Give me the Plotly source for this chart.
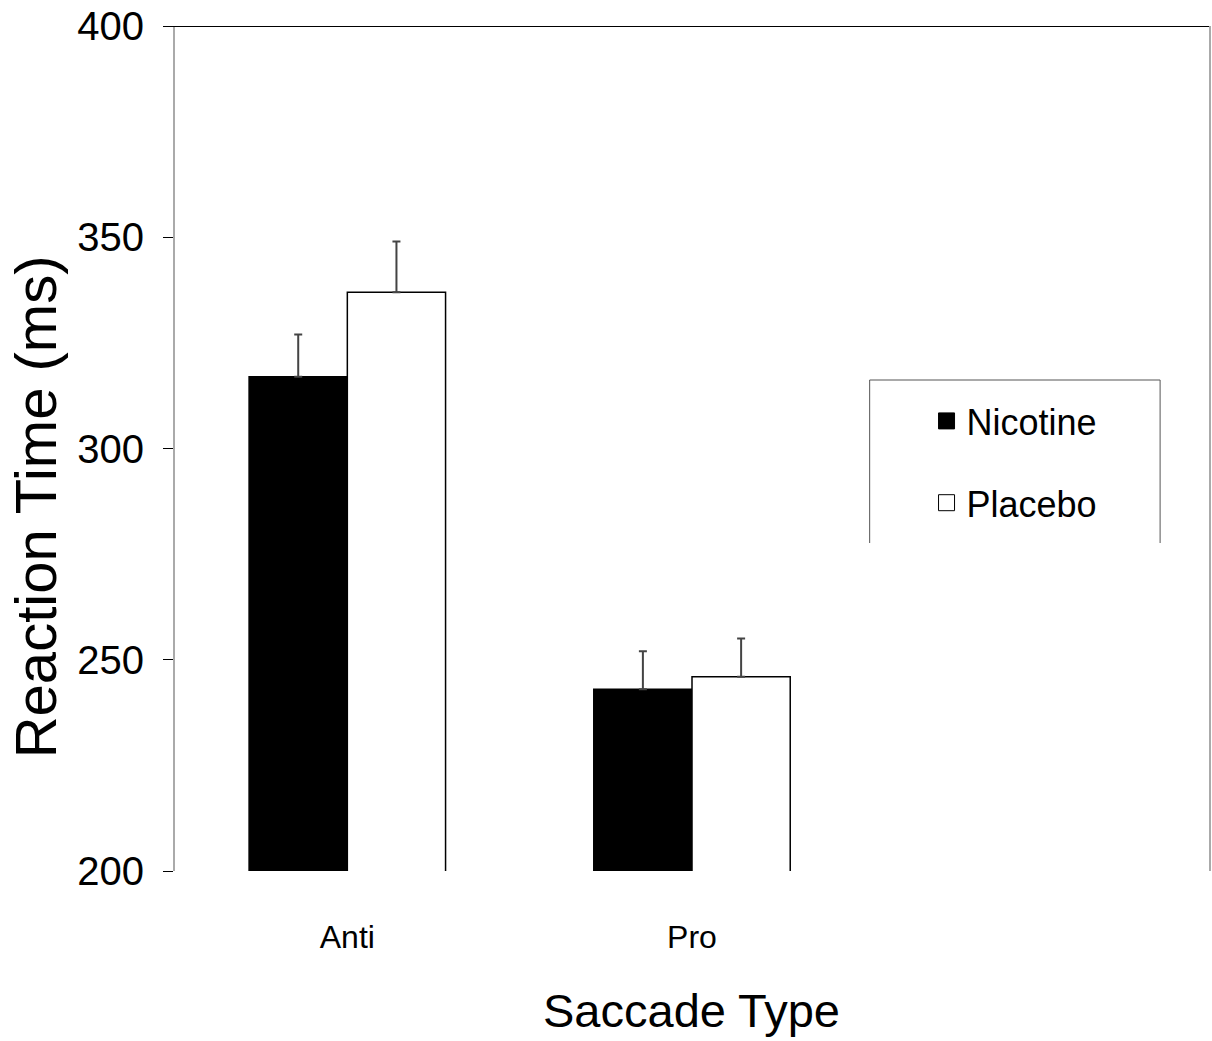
import plotly.graph_objects as go

categories = ["Anti", "Pro"]
cat_pos = [0, 1]
nicotine = [317, 243]
nicotine_err = [10, 9]
placebo = [337, 246]
placebo_err = [12, 9]
y_ticks = [200, 250, 300, 350, 400]

W, H = 1212, 1041
L, R, T, B = 175, 1, 26, 170
pw, ph = W - L - R, H - T - B

def px_x(p):
    # screen pixel -> paper x
    return (p - L) / pw

def px_y(p):
    # screen pixel -> paper y
    return (H - B - p) / ph

fig = go.Figure()
fig.add_trace(go.Bar(
    x=cat_pos, y=nicotine, name="Nicotine", showlegend=False,
    marker=dict(color="black", line=dict(color="black", width=1.5)),
    error_y=dict(type="data", symmetric=False, array=nicotine_err,
                 arrayminus=[0, 0], color="#444", thickness=2, width=4),
))
fig.add_trace(go.Bar(
    x=cat_pos, y=placebo, name="Placebo", showlegend=False,
    marker=dict(color="white", line=dict(color="black", width=1.5)),
    error_y=dict(type="data", symmetric=False, array=placebo_err,
                 arrayminus=[0, 0], color="#444", thickness=2, width=4),
))
# legend entries
fig.add_trace(go.Scatter(
    x=[None], y=[None], mode="markers", name="Nicotine", legendgroup="a",
    marker=dict(symbol="square", size=18, color="black",
                line=dict(color="black", width=1)),
))
fig.add_trace(go.Scatter(
    x=[None], y=[None], mode="markers", name="Placebo", legendgroup="b",
    marker=dict(symbol="square", size=18, color="white",
                line=dict(color="black", width=1)),
))

fig.update_layout(
    width=W, height=H,
    margin=dict(l=L, r=R, t=T, b=B, pad=0),
    paper_bgcolor="white", plot_bgcolor="white",
    barmode="group", bargap=0.43, bargroupgap=0,
    font=dict(family="Liberation Sans, Arial, sans-serif", color="black"),
    showlegend=True,
    legend=dict(
        x=px_x(928), y=px_y(462), xanchor="left", yanchor="middle",
        bgcolor="rgba(0,0,0,0)", borderwidth=0,
        font=dict(size=36, family="Liberation Sans, Arial, sans-serif"),
        tracegroupgap=32, itemsizing="trace", traceorder="grouped",
    ),
    xaxis=dict(
        range=[-0.5, 2.5], tickvals=cat_pos, ticktext=categories,
        showline=False, showgrid=False, zeroline=False, ticks="",
        tickfont=dict(size=32), ticklabelstandoff=44,
    ),
    yaxis=dict(
        range=[200, 400], tickvals=y_ticks, showgrid=False, zeroline=False,
        showline=True, linecolor="#aaaaaa", linewidth=2, mirror=True,
        ticks="outside", ticklen=10, tickcolor="black", tickwidth=1,
        tickfont=dict(size=40),
        ticklabelstandoff=11,
    ),
    shapes=[
        dict(type="line", xref="paper", yref="y", x0=px_x(163), x1=1.0,
             y0=400, y1=400, line=dict(color="black", width=2)),
        dict(type="path", xref="paper", yref="paper",
             path=f"M {px_x(871)},{px_y(543)} L {px_x(871)},{px_y(380)} "
                  f"L {px_x(1162)},{px_y(380)} L {px_x(1162)},{px_y(543)}",
             line=dict(color="#555555", width=1)),
    ],
    annotations=[
        dict(text="Saccade Type", xref="paper", yref="paper",
             x=px_x(692), y=px_y(1010), xanchor="center", yanchor="middle",
             showarrow=False, font=dict(size=47)),
        dict(text="Reaction Time (ms)", xref="paper", yref="paper",
             x=px_x(35), y=px_y(507), xanchor="center", yanchor="middle",
             textangle=-90, showarrow=False, font=dict(size=58)),
    ],
)

fig.write_html(
    "out.html",
    config={"displayModeBar": False},
    post_script="document.body.style.margin='0';document.body.style.overflow='hidden';",
)
